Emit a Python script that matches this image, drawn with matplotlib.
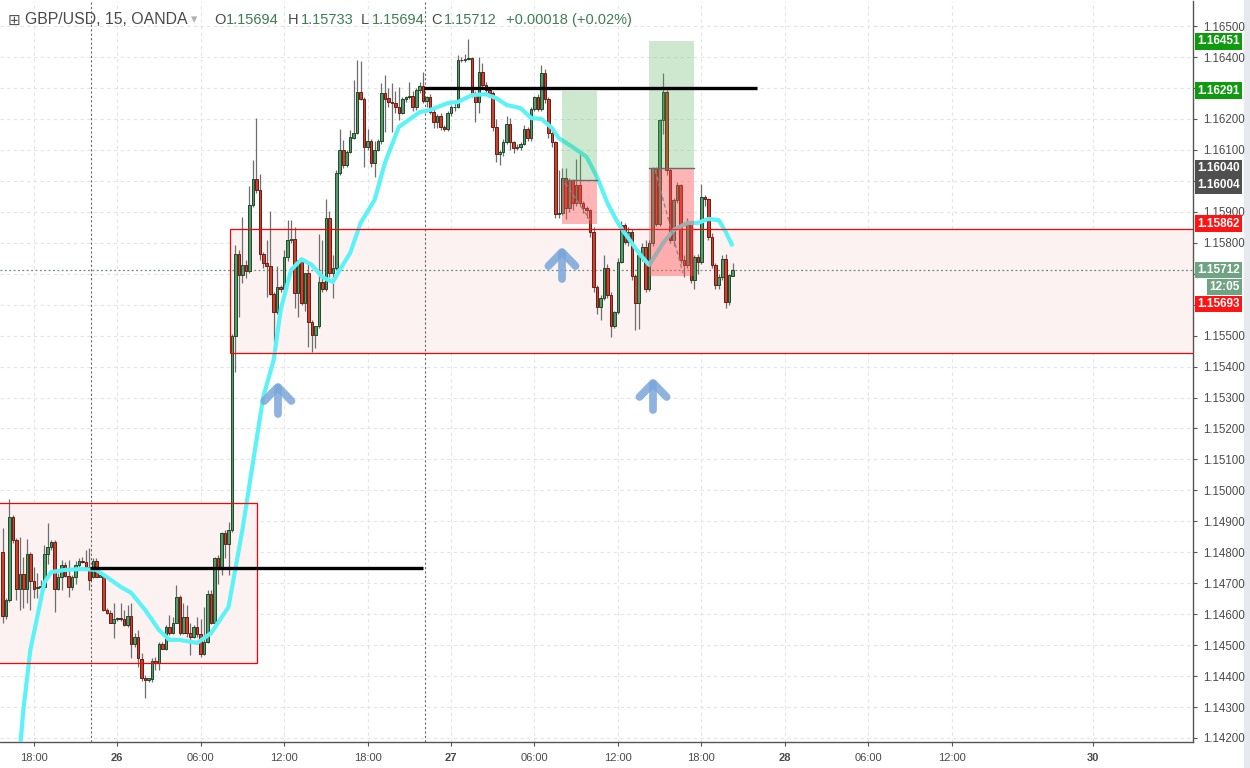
import numpy as np
import matplotlib
matplotlib.use("Agg")
import matplotlib.pyplot as plt
from matplotlib.patches import Rectangle
from matplotlib.transforms import blended_transform_factory

plt.rcParams['font.family'] = ['Liberation Sans', 'DejaVu Sans']

# GBP/USD 15 min candles, 25th 15:45 -> 27th 20:15 (one value per candle)
opens = [
    1.14802, 1.14594, 1.14646, 1.14915, 1.14839, 1.14680, 1.14730, 1.14680, 1.14794, 1.14708,
    1.14684, 1.14687, 1.14689, 1.14794, 1.14816, 1.14832, 1.14680, 1.14719, 1.14759, 1.14723,
    1.14689, 1.14719, 1.14759, 1.14773, 1.14769, 1.14751, 1.14719, 1.14773, 1.14721, 1.14726,
    1.14613, 1.14605, 1.14572, 1.14583, 1.14586, 1.14583, 1.14565, 1.14594, 1.14503, 1.14525,
    1.14454, 1.14393, 1.14387, 1.14389, 1.14450, 1.14441, 1.14503, 1.14489, 1.14557, 1.14538,
    1.14572, 1.14656, 1.14538, 1.14592, 1.14538, 1.14527, 1.14559, 1.14536, 1.14471, 1.14511,
    1.14665, 1.14570, 1.14780, 1.14751, 1.14861, 1.14827, 1.14872,
    1.15500, 1.15765, 1.15695, 1.15728, 1.15709, 1.15922, 1.16005, 1.15970, 1.15763, 1.15735,
    1.15725, 1.15634, 1.15575, 1.15658, 1.15649, 1.15755, 1.15809, 1.15812, 1.15639, 1.15744,
    1.15606, 1.15701, 1.15545, 1.15502, 1.15531, 1.15672, 1.15649, 1.15879, 1.15701, 1.15717,
    1.16024, 1.16099, 1.16051, 1.16094, 1.16140, 1.16155, 1.16288, 1.16266, 1.16110, 1.16128,
    1.16058, 1.16101, 1.16128, 1.16285, 1.16266, 1.16255, 1.16250, 1.16239, 1.16220, 1.16263,
    1.16270, 1.16274, 1.16237, 1.16293, 1.16306, 1.16259, 1.16272, 1.16223, 1.16191, 1.16209,
    1.16175, 1.16166, 1.16218, 1.16237, 1.16240, 1.16392, 1.16390, 1.16395, 1.16397, 1.16277,
    1.16255, 1.16352, 1.16309, 1.16295, 1.16285, 1.16175, 1.16086, 1.16094, 1.16126, 1.16185,
    1.16126, 1.16106, 1.16108, 1.16119, 1.16166, 1.16137, 1.16233, 1.16270, 1.16231, 1.16349,
    1.16263, 1.16155, 1.16126,
    1.15893, 1.15895, 1.16008, 1.15911, 1.16002, 1.15927, 1.15986, 1.15927, 1.15911, 1.15905,
    1.15835, 1.15658, 1.15591, 1.15623, 1.15717, 1.15631, 1.15532, 1.15575, 1.15739, 1.15857,
    1.15803, 1.15835, 1.15692, 1.15606, 1.15760, 1.15787, 1.15652, 1.15800, 1.16040, 1.15862,
    1.16196, 1.16288, 1.16035, 1.15808, 1.15938, 1.15986, 1.15744, 1.15728, 1.15864, 1.15679,
    1.15755, 1.15738, 1.15948, 1.15940, 1.15819, 1.15728, 1.15663, 1.15690, 1.15749, 1.15609,
    1.15694,
]
highs = [
    1.14877, 1.14651, 1.14971, 1.14920, 1.14845, 1.14850, 1.14786, 1.14842, 1.14802, 1.14753,
    1.14732, 1.14710, 1.14823, 1.14893, 1.14839, 1.14839, 1.14732, 1.14775, 1.14769, 1.14775,
    1.14726, 1.14773, 1.14780, 1.14786, 1.14807, 1.14813, 1.14780, 1.14780, 1.14732, 1.14729,
    1.14619, 1.14613, 1.14635, 1.14592, 1.14635, 1.14613, 1.14629, 1.14635, 1.14538, 1.14549,
    1.14473, 1.14404, 1.14393, 1.14457, 1.14462, 1.14511, 1.14511, 1.14565, 1.14597, 1.14592,
    1.14694, 1.14662, 1.14635, 1.14629, 1.14570, 1.14565, 1.14592, 1.14586, 1.14624, 1.14678,
    1.14678, 1.14786, 1.14791, 1.14866, 1.14872, 1.14899, 1.15505,
    1.15792, 1.15776, 1.15884, 1.15744, 1.15983, 1.16067, 1.16202, 1.16022, 1.15770, 1.15809,
    1.15903, 1.15640, 1.15725, 1.15665, 1.15776, 1.15873, 1.15873, 1.15852, 1.15744, 1.15750,
    1.15701, 1.15733, 1.15550, 1.15531, 1.15828, 1.15809, 1.15940, 1.15903, 1.15760, 1.16035,
    1.16166, 1.16131, 1.16100, 1.16164, 1.16325, 1.16392, 1.16387, 1.16270, 1.16167, 1.16135,
    1.16128, 1.16135, 1.16315, 1.16342, 1.16300, 1.16315, 1.16290, 1.16304, 1.16270, 1.16275,
    1.16320, 1.16290, 1.16300, 1.16320, 1.16352, 1.16275, 1.16280, 1.16235, 1.16215, 1.16220,
    1.16180, 1.16225, 1.16245, 1.16250, 1.16406, 1.16400, 1.16410, 1.16457, 1.16400, 1.16290,
    1.16400, 1.16380, 1.16320, 1.16300, 1.16290, 1.16200, 1.16100, 1.16135, 1.16211, 1.16204,
    1.16130, 1.16120, 1.16125, 1.16180, 1.16175, 1.16240, 1.16275, 1.16280, 1.16374, 1.16360,
    1.16270, 1.16160, 1.16130,
    1.16035, 1.16040, 1.16040, 1.16010, 1.16005, 1.16069, 1.16094, 1.15935, 1.15920, 1.15910,
    1.15850, 1.15665, 1.15630, 1.15760, 1.15730, 1.15640, 1.15580, 1.15750, 1.15870, 1.15865,
    1.15850, 1.15845, 1.15700, 1.15775, 1.15800, 1.15810, 1.15810, 1.16045, 1.16045, 1.16200,
    1.16347, 1.16295, 1.16040, 1.15945, 1.15995, 1.15990, 1.15760, 1.15880, 1.15870, 1.15760,
    1.15765, 1.15990, 1.15955, 1.15945, 1.15830, 1.15735, 1.15700, 1.15760, 1.15765, 1.15700,
    1.15733,
]
lows = [
    1.14572, 1.14586, 1.14640, 1.14829, 1.14646, 1.14615, 1.14619, 1.14635, 1.14615, 1.14651,
    1.14651, 1.14678, 1.14678, 1.14762, 1.14807, 1.14608, 1.14678, 1.14678, 1.14719, 1.14656,
    1.14678, 1.14699, 1.14753, 1.14766, 1.14747, 1.14678, 1.14716, 1.14719, 1.14719, 1.14611,
    1.14600, 1.14570, 1.14522, 1.14579, 1.14579, 1.14562, 1.14559, 1.14457, 1.14495, 1.14430,
    1.14385, 1.14328, 1.14382, 1.14382, 1.14419, 1.14419, 1.14486, 1.14484, 1.14533, 1.14536,
    1.14570, 1.14533, 1.14536, 1.14527, 1.14468, 1.14522, 1.14527, 1.14462, 1.14468, 1.14506,
    1.14568, 1.14568, 1.14699, 1.14726, 1.14780, 1.14726, 1.14865,
    1.15382, 1.15561, 1.15669, 1.15685, 1.15701, 1.15917, 1.15960, 1.15744, 1.15717, 1.15625,
    1.15630, 1.15480, 1.15570, 1.15640, 1.15640, 1.15740, 1.15800, 1.15588, 1.15561, 1.15600,
    1.15580, 1.15464, 1.15448, 1.15459, 1.15525, 1.15640, 1.15645, 1.15690, 1.15620, 1.15712,
    1.16020, 1.16040, 1.16045, 1.16090, 1.16135, 1.16150, 1.16260, 1.16045, 1.16100, 1.16045,
    1.16013, 1.16095, 1.16120, 1.16158, 1.16240, 1.16158, 1.16220, 1.16198, 1.16215, 1.16255,
    1.16265, 1.16225, 1.16230, 1.16285, 1.16250, 1.16240, 1.16215, 1.16170, 1.16170, 1.16165,
    1.16160, 1.16160, 1.16210, 1.16225, 1.16235, 1.16385, 1.16385, 1.16390, 1.16270, 1.16191,
    1.16220, 1.16300, 1.16280, 1.16270, 1.16160, 1.16060, 1.16052, 1.16080, 1.16120, 1.16100,
    1.16090, 1.16100, 1.16100, 1.16115, 1.16130, 1.16130, 1.16225, 1.16225, 1.16225, 1.16250,
    1.16140, 1.16110, 1.15880,
    1.15880, 1.15890, 1.15878, 1.15900, 1.15905, 1.15920, 1.15920, 1.15895, 1.15880, 1.15820,
    1.15640, 1.15570, 1.15550, 1.15615, 1.15620, 1.15496, 1.15525, 1.15570, 1.15735, 1.15795,
    1.15790, 1.15680, 1.15518, 1.15520, 1.15740, 1.15640, 1.15645, 1.15790, 1.15855, 1.15855,
    1.16150, 1.16020, 1.15800, 1.15790, 1.15930, 1.15735, 1.15690, 1.15720, 1.15670, 1.15650,
    1.15700, 1.15730, 1.15920, 1.15810, 1.15720, 1.15650, 1.15650, 1.15680, 1.15590, 1.15600,
    1.15694,
]
closes = [
    1.14594, 1.14646, 1.14915, 1.14839, 1.14680, 1.14730, 1.14680, 1.14794, 1.14708, 1.14682,
    1.14689, 1.14691, 1.14794, 1.14816, 1.14832, 1.14680, 1.14719, 1.14759, 1.14723, 1.14689,
    1.14719, 1.14759, 1.14773, 1.14769, 1.14751, 1.14712, 1.14773, 1.14721, 1.14726, 1.14613,
    1.14605, 1.14572, 1.14583, 1.14586, 1.14583, 1.14565, 1.14594, 1.14503, 1.14525, 1.14457,
    1.14393, 1.14387, 1.14393, 1.14450, 1.14441, 1.14503, 1.14489, 1.14557, 1.14538, 1.14572,
    1.14656, 1.14538, 1.14592, 1.14538, 1.14527, 1.14559, 1.14536, 1.14471, 1.14511, 1.14665,
    1.14570, 1.14780, 1.14751, 1.14861, 1.14827, 1.14872, 1.15499,
    1.15765, 1.15695, 1.15728, 1.15709, 1.15922, 1.16005, 1.15970, 1.15763, 1.15735, 1.15725,
    1.15634, 1.15575, 1.15658, 1.15649, 1.15755, 1.15809, 1.15812, 1.15639, 1.15744, 1.15606,
    1.15701, 1.15545, 1.15502, 1.15531, 1.15672, 1.15649, 1.15879, 1.15701, 1.15717, 1.16024,
    1.16099, 1.16051, 1.16094, 1.16140, 1.16155, 1.16288, 1.16266, 1.16110, 1.16128, 1.16058,
    1.16101, 1.16128, 1.16285, 1.16266, 1.16255, 1.16250, 1.16239, 1.16220, 1.16263, 1.16270,
    1.16274, 1.16237, 1.16293, 1.16306, 1.16259, 1.16272, 1.16223, 1.16191, 1.16209, 1.16175,
    1.16166, 1.16218, 1.16237, 1.16240, 1.16392, 1.16390, 1.16395, 1.16397, 1.16277, 1.16255,
    1.16352, 1.16309, 1.16295, 1.16285, 1.16175, 1.16086, 1.16094, 1.16126, 1.16185, 1.16126,
    1.16106, 1.16108, 1.16119, 1.16166, 1.16137, 1.16233, 1.16270, 1.16231, 1.16349, 1.16263,
    1.16155, 1.16126, 1.15893,
    1.15895, 1.16008, 1.15911, 1.16002, 1.15927, 1.15986, 1.15927, 1.15911, 1.15905, 1.15835,
    1.15658, 1.15591, 1.15623, 1.15717, 1.15631, 1.15532, 1.15575, 1.15739, 1.15857, 1.15803,
    1.15835, 1.15692, 1.15606, 1.15760, 1.15787, 1.15652, 1.15800, 1.16040, 1.15862, 1.16196,
    1.16288, 1.16035, 1.15808, 1.15938, 1.15986, 1.15744, 1.15728, 1.15864, 1.15679, 1.15755,
    1.15738, 1.15948, 1.15940, 1.15819, 1.15728, 1.15663, 1.15690, 1.15749, 1.15609, 1.15695,
    1.15712,
]

# moving average (cyan), read at some candles
ma_bar = [5, 6, 8, 10, 12, 14, 18, 23, 27, 30, 34, 37, 41, 45, 48, 51, 56, 60, 65, 69,
          72, 75, 78, 80, 83, 86, 89, 92, 95, 97, 100, 103, 107, 110, 114, 120, 123, 128, 131, 135,
          139, 142, 145, 149, 152, 155, 158, 160, 164, 168, 171, 174, 177, 179, 183, 186, 190, 193, 197, 200,
          203, 206, 208, 210]
ma_val = [1.14160, 1.14291, 1.14484, 1.14591, 1.14701, 1.14736, 1.14743, 1.14746, 1.14743, 1.14720,
          1.14688, 1.14669, 1.14614, 1.14549, 1.14517, 1.14517, 1.14507, 1.14539, 1.14623, 1.14872,
          1.15088, 1.15302, 1.15421, 1.15583, 1.15712, 1.15747, 1.15728, 1.15689, 1.15673, 1.15712,
          1.15767, 1.15864, 1.15938, 1.16058, 1.16174, 1.16222, 1.16229, 1.16251, 1.16255, 1.16277,
          1.16280, 1.16267, 1.16245, 1.16235, 1.16203, 1.16200, 1.16171, 1.16138, 1.16109, 1.16077,
          1.16012, 1.15928, 1.15864, 1.15831, 1.15767, 1.15728, 1.15799, 1.15841, 1.15864, 1.15864,
          1.15877, 1.15873, 1.15835, 1.15789]

# time axis labels (candle index of each label; weekend gap before "30")
tick_bars = [9, 33, 57, 81, 105, 129, 153, 177, 201, 225, 249, 273, 313.5]
tick_labels = ['18:00', '26', '06:00', '12:00', '18:00', '27', '06:00', '12:00', '18:00', '28', '06:00', '12:00', '30']
session_breaks = [25.5, 121.5]
# price levels whose axis label is hidden behind a price tag
hidden_levels = [1.163, 1.160, 1.157, 1.156]

# drawings
boxes = [(-2, 73.2, 1.14443, 1.14959), (65.4, 400, 1.15444, 1.15845)]
hlines = [(25.2, 120.9, 1.14749), (121.2, 217.0, 1.16300)]
# long positions: start, end, stop, entry, target
positions = [(160.9, 171.1, 1.15862, 1.16004, 1.16291), (186.0, 199.0, 1.15693, 1.16040, 1.16451)]
paths = [((161.8, 169.0), (1.15993, 1.15873)), ((187.7, 195.7), (1.16035, 1.15702))]
arrow_bar = [79.2, 160.9, 187.1]
arrow_tip = [1.15334, 1.15770, 1.15347]
arrow_tail = [1.15247, 1.15683, 1.15260]

last_price = 1.15712
price_tags = [('1.16451', 1.16451, '#109a10'), ('1.16291', 1.16291, '#109a10'),
              ('1.16040', 1.16040, '#4f4f4f'), ('1.16004', 1.15986, '#4f4f4f'),
              ('1.15862', 1.15862, '#ff1414'), ('1.15712', 1.15712, '#6fa383'),
              ('12:05', 1.15657, '#6fa383'), ('1.15693', 1.15602, '#ff1414')]

W, H = 1250, 768
fig = plt.figure(figsize=(W / 100, H / 100), dpi=100)
fig.patches.append(Rectangle((1244 / W, 0), 6 / W, 1, transform=fig.transFigure,
                             color='#e6e9ee', zorder=-5))
ax = fig.add_axes([0, 26 / H, 1193 / W, 741 / H])
ax.set_xlim(-0.72, 342.4)
ax.set_ylim(1.14187, 1.16581)

# candles
x = np.arange(len(closes))
o, h, l, c = (np.array(v) for v in (opens, highs, lows, closes))
up = c >= o
ax.vlines(x, l, h, color='#6e6e6e', lw=0.9, zorder=3)
ax.bar(x, np.maximum(np.abs(c - o), 0.00002), 0.74, np.minimum(o, c),
       color=np.where(up, '#56996a', '#cf3f2d'), edgecolor=np.where(up, '#1d4a2b', '#6a1c13'),
       linewidth=0.7, zorder=3.5)

# moving average
ax.plot(ma_bar, ma_val, color='#5cf3f8', lw=3.0, solid_capstyle='butt', zorder=4)

# rectangles
for x0, x1, y0, y1 in boxes:
    ax.add_patch(Rectangle((x0, y0), x1 - x0, y1 - y0, facecolor='#fdf2f2', edgecolor='none', zorder=1))
    ax.add_patch(Rectangle((x0, y0), x1 - x0, y1 - y0, facecolor='none', edgecolor='#ff0000', lw=0.9, zorder=4.5))

# long position tools
for x0, x1, stop, entry, target in positions:
    ax.add_patch(Rectangle((x0, entry), x1 - x0, target - entry, facecolor='#4caf50', alpha=0.28,
                           edgecolor='none', zorder=5))
    ax.add_patch(Rectangle((x0, stop), x1 - x0, entry - stop, facecolor='#ff4f4f', alpha=0.42,
                           edgecolor='none', zorder=5))
    ax.plot([x0, x1], [entry, entry], color='#6b6b6b', lw=1.0, zorder=5.2)
for px, py in paths:
    ax.plot(px, py, color='#8a8a8a', lw=1.0, ls=(0, (3, 2)), zorder=5.3)

for x0, x1, y in hlines:
    ax.plot([x0, x1], [y, y], color='black', lw=2.4, solid_capstyle='butt', zorder=6)

for xb in session_breaks:
    ax.axvline(xb, color='#666666', lw=0.8, ls=(0, (2, 2)), zorder=2)
ax.axhline(last_price, color='#6b8e78', lw=0.9, ls=(0, (1.5, 2)), zorder=2)

# blue arrows
for xa, tip, tail in zip(arrow_bar, arrow_tip, arrow_tail):
    drop = (tip - tail) * 0.52
    kw = dict(color='#7aa6da', lw=5.6, alpha=0.85, solid_capstyle='round', solid_joinstyle='round', zorder=7)
    ax.plot([xa, xa], [tail, tip - 0.00003], **kw)
    ax.plot([xa - 3.9, xa, xa + 3.9], [tip - drop, tip, tip - drop], **kw)

# axes styling
levels = [round(1.142 + 0.001 * k, 3) for k in range(24)]
ax.set_yticks(levels)
ax.set_yticklabels(['' if lv in hidden_levels else f'{lv:.5f}' for lv in levels])
ax.yaxis.tick_right()
ax.set_xticks(tick_bars)
ax.set_xticklabels(tick_labels)
for lab in ax.get_xticklabels():
    if ':' not in lab.get_text():
        lab.set_fontweight('bold')
ax.tick_params(axis='y', length=3, width=0.8, colors='#555555', labelsize=8.3, pad=4, labelcolor='#4a4a4a')
ax.tick_params(axis='x', length=3, width=0.8, colors='#555555', labelsize=8, pad=5, labelcolor='#4a4a4a')
ax.grid(True, color='#e4e4e4', ls=(0, (3, 3)), lw=0.8)
ax.set_axisbelow(True)
for side in ('left', 'top'):
    ax.spines[side].set_visible(False)
for side in ('right', 'bottom'):
    ax.spines[side].set_color('#555555')
    ax.spines[side].set_linewidth(1.0)

trans = blended_transform_factory(fig.transFigure, ax.transData)
for txt, yv, col in price_tags:
    ax.text(1240 / W, yv, txt, transform=trans, ha='right', va='center', fontsize=8.5,
            color='white', fontweight='bold', clip_on=False, zorder=10,
            bbox=dict(boxstyle='square,pad=0.2', fc=col, ec='none'))

# header
hy = 1 - 20 / H
fig.text(8 / W, hy, '⊞', fontsize=11, color='#555555', va='center', family=['DejaVu Sans'])
fig.text(25 / W, hy, 'GBP/USD, 15, OANDA', fontsize=11.4, color='#4a4a4a', va='center')
fig.text(191 / W, hy, '▾', fontsize=9, color='#b0b0b0', va='center', family=['DejaVu Sans'])
header = [('O', 214, '#4a4a4a'), ('1.15694', 226, '#3f7d52'), ('H', 288, '#4a4a4a'),
          ('1.15733', 301, '#3f7d52'), ('L', 361, '#4a4a4a'), ('1.15694', 372, '#3f7d52'),
          ('C', 431, '#4a4a4a'), ('1.15712', 444, '#3f7d52'), ('+0.00018 (+0.02%)', 506, '#3f7d52')]
for txt, px, col in header:
    fig.text(px / W, hy, txt, fontsize=10.5, color=col, va='center')

fig.savefig('out.png', dpi=100, facecolor='white')
